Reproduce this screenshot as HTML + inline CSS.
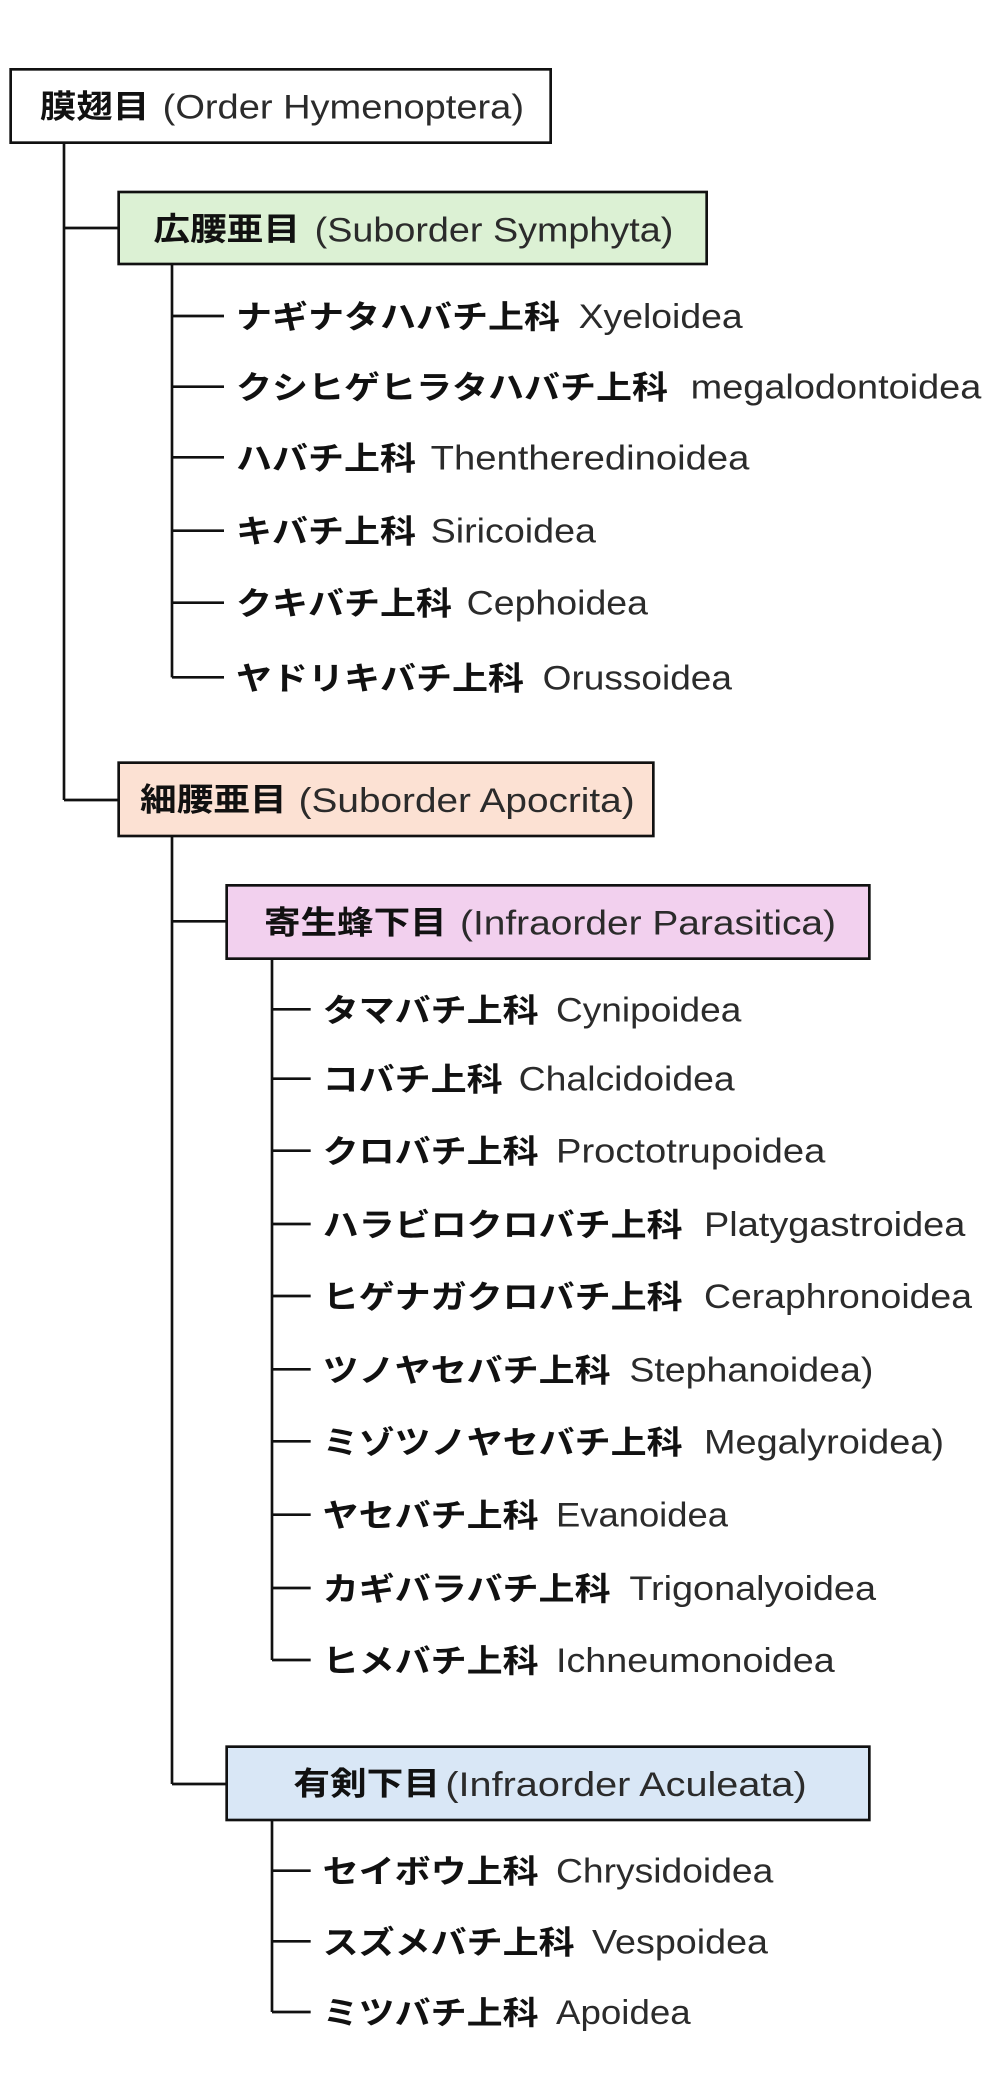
<!DOCTYPE html>
<html><head><meta charset="utf-8"><style>
html,body{margin:0;padding:0;background:#fff;}
svg{display:block;}
.j{font-family:"Liberation Sans","Noto Sans CJK JP",sans-serif;font-weight:bold;font-size:24px;fill:#111;}
.l{font-family:"Liberation Sans","Noto Sans CJK JP",sans-serif;font-size:26px;fill:#2b2b2b;}
</style></head><body>
<svg width="1000" height="2097" viewBox="0 0 750 1572.75" preserveAspectRatio="none" xmlns="http://www.w3.org/2000/svg">
<g stroke="#111" stroke-width="2" fill="none">
<line x1="48" y1="107" x2="48" y2="600"/>
<line x1="48" y1="171" x2="89" y2="171"/>
<line x1="48" y1="600" x2="89" y2="600"/>
<line x1="129" y1="198" x2="129" y2="508"/>
<line x1="129" y1="237" x2="168" y2="237"/>
<line x1="129" y1="290" x2="168" y2="290"/>
<line x1="129" y1="343" x2="168" y2="343"/>
<line x1="129" y1="398" x2="168" y2="398"/>
<line x1="129" y1="452" x2="168" y2="452"/>
<line x1="129" y1="508" x2="168" y2="508"/>
<line x1="129" y1="627" x2="129" y2="1338"/>
<line x1="129" y1="691" x2="170" y2="691"/>
<line x1="129" y1="1338" x2="170" y2="1338"/>
<line x1="204" y1="719" x2="204" y2="1245"/>
<line x1="204" y1="757" x2="233" y2="757"/>
<line x1="204" y1="809" x2="233" y2="809"/>
<line x1="204" y1="863" x2="233" y2="863"/>
<line x1="204" y1="918" x2="233" y2="918"/>
<line x1="204" y1="972" x2="233" y2="972"/>
<line x1="204" y1="1027" x2="233" y2="1027"/>
<line x1="204" y1="1081" x2="233" y2="1081"/>
<line x1="204" y1="1136" x2="233" y2="1136"/>
<line x1="204" y1="1191" x2="233" y2="1191"/>
<line x1="204" y1="1245" x2="233" y2="1245"/>
<line x1="204" y1="1365" x2="204" y2="1509"/>
<line x1="204" y1="1403" x2="233" y2="1403"/>
<line x1="204" y1="1456" x2="233" y2="1456"/>
<line x1="204" y1="1509" x2="233" y2="1509"/>
</g>
<g stroke="#111" stroke-width="2">
<rect x="8" y="52" width="405" height="55" fill="#fff"/>
<rect x="89" y="144" width="441" height="54" fill="#dcf1d4"/>
<rect x="89" y="572" width="401" height="55" fill="#fce1d3"/>
<rect x="170" y="664" width="482" height="55" fill="#f2d0ee"/>
<rect x="170" y="1310" width="482" height="55" fill="#d9e7f6"/>
</g>
<text class="j" x="30" y="88" textLength="82" lengthAdjust="spacingAndGlyphs">膜翅目</text>
<text class="l" x="122" y="89" textLength="271" lengthAdjust="spacingAndGlyphs">(Order Hymenoptera)</text>
<text class="j" x="115" y="180" textLength="110" lengthAdjust="spacingAndGlyphs">広腰亜目</text>
<text class="l" x="236" y="181" textLength="269" lengthAdjust="spacingAndGlyphs">(Suborder Symphyta)</text>
<text class="j" x="105" y="608" textLength="110" lengthAdjust="spacingAndGlyphs">細腰亜目</text>
<text class="l" x="224" y="609" textLength="252" lengthAdjust="spacingAndGlyphs">(Suborder Apocrita)</text>
<text class="j" x="198" y="700" textLength="137" lengthAdjust="spacingAndGlyphs">寄生蜂下目</text>
<text class="l" x="345" y="701" textLength="282" lengthAdjust="spacingAndGlyphs">(Infraorder Parasitica)</text>
<text class="j" x="220" y="1346" textLength="110" lengthAdjust="spacingAndGlyphs">有剣下目</text>
<text class="l" x="334" y="1347" textLength="271" lengthAdjust="spacingAndGlyphs">(Infraorder Aculeata)</text>
<text class="j" x="177" y="246" textLength="243" lengthAdjust="spacingAndGlyphs">ナギナタハバチ上科</text>
<text class="l" x="434" y="246" textLength="123" lengthAdjust="spacingAndGlyphs">Xyeloidea</text>
<text class="j" x="177" y="299" textLength="324" lengthAdjust="spacingAndGlyphs">クシヒゲヒラタハバチ上科</text>
<text class="l" x="518" y="299" textLength="218" lengthAdjust="spacingAndGlyphs">megalodontoidea</text>
<text class="j" x="177" y="352" textLength="135" lengthAdjust="spacingAndGlyphs">ハバチ上科</text>
<text class="l" x="323" y="352" textLength="239" lengthAdjust="spacingAndGlyphs">Thentheredinoidea</text>
<text class="j" x="177" y="407" textLength="135" lengthAdjust="spacingAndGlyphs">キバチ上科</text>
<text class="l" x="323" y="407" textLength="124" lengthAdjust="spacingAndGlyphs">Siricoidea</text>
<text class="j" x="177" y="461" textLength="162" lengthAdjust="spacingAndGlyphs">クキバチ上科</text>
<text class="l" x="350" y="461" textLength="136" lengthAdjust="spacingAndGlyphs">Cephoidea</text>
<text class="j" x="177" y="517" textLength="216" lengthAdjust="spacingAndGlyphs">ヤドリキバチ上科</text>
<text class="l" x="407" y="517" textLength="142" lengthAdjust="spacingAndGlyphs">Orussoidea</text>
<text class="j" x="242" y="766" textLength="162" lengthAdjust="spacingAndGlyphs">タマバチ上科</text>
<text class="l" x="417" y="766" textLength="139" lengthAdjust="spacingAndGlyphs">Cynipoidea</text>
<text class="j" x="242" y="818" textLength="135" lengthAdjust="spacingAndGlyphs">コバチ上科</text>
<text class="l" x="389" y="818" textLength="162" lengthAdjust="spacingAndGlyphs">Chalcidoidea</text>
<text class="j" x="242" y="872" textLength="162" lengthAdjust="spacingAndGlyphs">クロバチ上科</text>
<text class="l" x="417" y="872" textLength="202" lengthAdjust="spacingAndGlyphs">Proctotrupoidea</text>
<text class="j" x="242" y="927" textLength="270" lengthAdjust="spacingAndGlyphs">ハラビロクロバチ上科</text>
<text class="l" x="528" y="927" textLength="196" lengthAdjust="spacingAndGlyphs">Platygastroidea</text>
<text class="j" x="242" y="981" textLength="270" lengthAdjust="spacingAndGlyphs">ヒゲナガクロバチ上科</text>
<text class="l" x="528" y="981" textLength="201" lengthAdjust="spacingAndGlyphs">Ceraphronoidea</text>
<text class="j" x="242" y="1036" textLength="216" lengthAdjust="spacingAndGlyphs">ツノヤセバチ上科</text>
<text class="l" x="472" y="1036" textLength="183" lengthAdjust="spacingAndGlyphs">Stephanoidea)</text>
<text class="j" x="242" y="1090" textLength="270" lengthAdjust="spacingAndGlyphs">ミゾツノヤセバチ上科</text>
<text class="l" x="528" y="1090" textLength="180" lengthAdjust="spacingAndGlyphs">Megalyroidea)</text>
<text class="j" x="242" y="1145" textLength="162" lengthAdjust="spacingAndGlyphs">ヤセバチ上科</text>
<text class="l" x="417" y="1145" textLength="129" lengthAdjust="spacingAndGlyphs">Evanoidea</text>
<text class="j" x="242" y="1200" textLength="216" lengthAdjust="spacingAndGlyphs">カギバラバチ上科</text>
<text class="l" x="472" y="1200" textLength="185" lengthAdjust="spacingAndGlyphs">Trigonalyoidea</text>
<text class="j" x="242" y="1254" textLength="162" lengthAdjust="spacingAndGlyphs">ヒメバチ上科</text>
<text class="l" x="417" y="1254" textLength="209" lengthAdjust="spacingAndGlyphs">Ichneumonoidea</text>
<text class="j" x="242" y="1412" textLength="162" lengthAdjust="spacingAndGlyphs">セイボウ上科</text>
<text class="l" x="417" y="1412" textLength="163" lengthAdjust="spacingAndGlyphs">Chrysidoidea</text>
<text class="j" x="242" y="1465" textLength="189" lengthAdjust="spacingAndGlyphs">スズメバチ上科</text>
<text class="l" x="444" y="1465" textLength="132" lengthAdjust="spacingAndGlyphs">Vespoidea</text>
<text class="j" x="242" y="1518" textLength="162" lengthAdjust="spacingAndGlyphs">ミツバチ上科</text>
<text class="l" x="417" y="1518" textLength="101" lengthAdjust="spacingAndGlyphs">Apoidea</text>
</svg>
</body></html>
